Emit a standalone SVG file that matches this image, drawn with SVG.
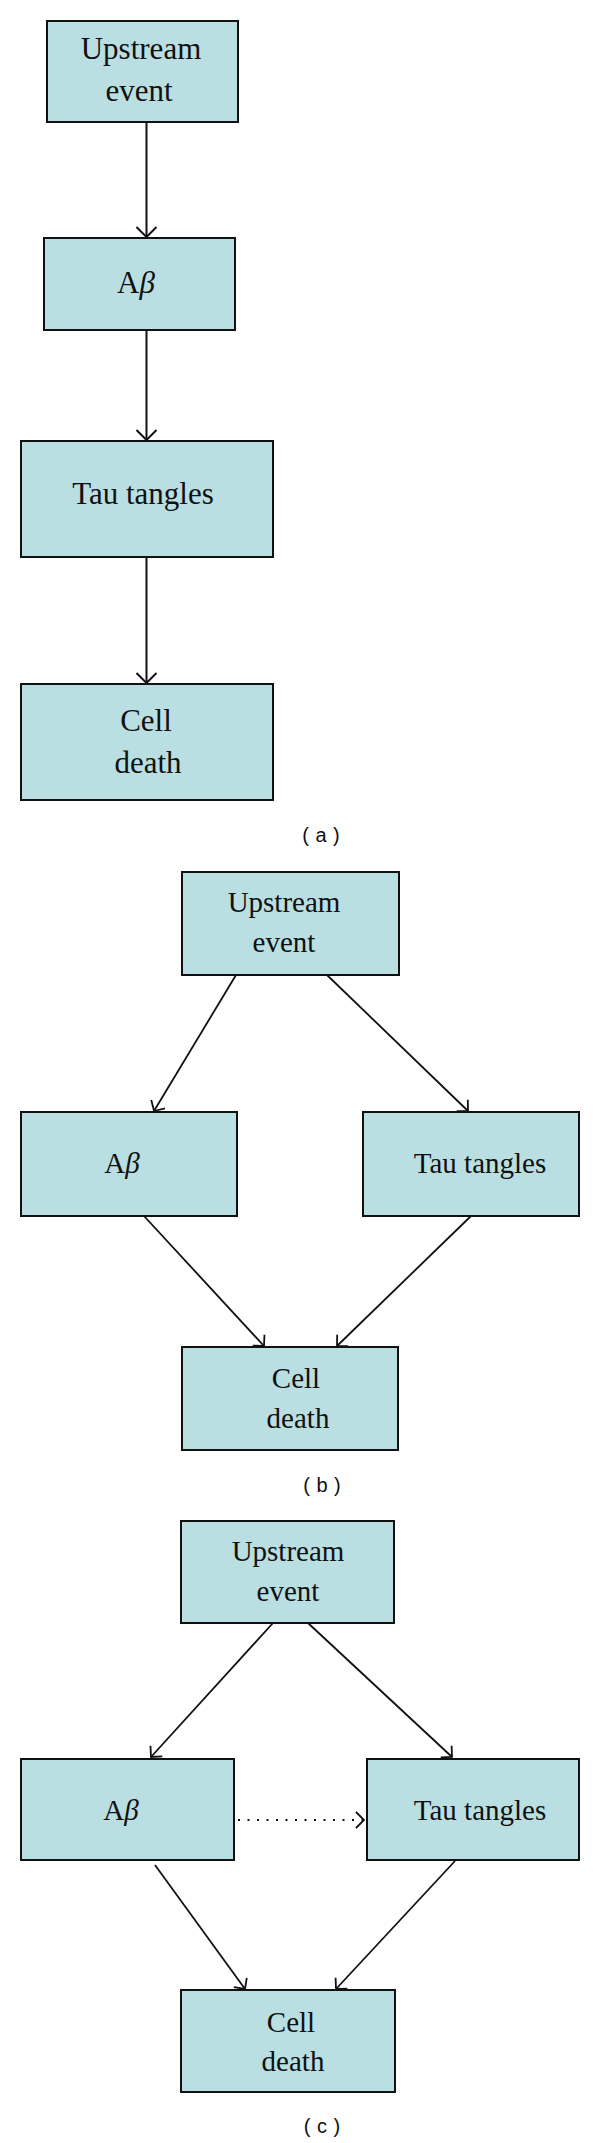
<svg xmlns="http://www.w3.org/2000/svg" width="600" height="2143" viewBox="0 0 600 2143">
<defs>
<style>
.box{fill:#badfe2;stroke:#111;stroke-width:2}
.t{font-family:"Liberation Serif","Times New Roman",serif;fill:#111;text-anchor:middle}
.ta{font-size:31px}
.tb{font-size:29px}
.lab{font-family:"Liberation Sans",Arial,sans-serif;font-size:20px;word-spacing:1px;fill:#111;text-anchor:middle}
.c{fill:none;stroke:#111;stroke-width:2}
.cb{fill:none;stroke:#111;stroke-width:1.8}
.dot{fill:none;stroke:#111;stroke-width:2;stroke-dasharray:2 7.5}
</style>
<marker id="ah" markerUnits="userSpaceOnUse" viewBox="0 0 12 22" refX="11" refY="11" markerWidth="12" markerHeight="22" orient="auto">
<path d="M1,1 L11,11 L1,21" fill="none" stroke="#111" stroke-width="2"/>
</marker>
<marker id="ahs" markerUnits="userSpaceOnUse" viewBox="0 0 10 18" refX="9" refY="9" markerWidth="10" markerHeight="18" orient="auto">
<path d="M1,1 L9,9 L1,17" fill="none" stroke="#111" stroke-width="1.8"/>
</marker>
</defs>
<rect width="600" height="2143" fill="#fff"/>

<g id="connectors">
<line class="c" x1="146.5" y1="122" x2="146.5" y2="237" marker-end="url(#ah)"/>
<line class="c" x1="146.5" y1="330" x2="146.5" y2="440" marker-end="url(#ah)"/>
<line class="c" x1="146.5" y1="557" x2="146.5" y2="683" marker-end="url(#ah)"/>

<line class="cb" x1="236" y1="975" x2="154" y2="1111" marker-end="url(#ahs)"/>
<line class="cb" x1="327" y1="975" x2="468" y2="1111" marker-end="url(#ahs)"/>
<line class="cb" x1="144" y1="1216" x2="264" y2="1346" marker-end="url(#ahs)"/>
<line class="cb" x1="471" y1="1216" x2="337" y2="1346" marker-end="url(#ahs)"/>

<line class="cb" x1="273" y1="1623" x2="151" y2="1757" marker-end="url(#ahs)"/>
<line class="cb" x1="308" y1="1623" x2="452" y2="1757" marker-end="url(#ahs)"/>
<line class="cb" x1="155" y1="1865" x2="245" y2="1989" marker-end="url(#ahs)"/>
<line class="cb" x1="455" y1="1861" x2="336" y2="1989" marker-end="url(#ahs)"/>
<line class="dot" x1="238" y1="1820" x2="364" y2="1820" marker-end="url(#ahs)"/>
</g>

<g id="a-upstream"><rect class="box" x="47" y="21" width="191" height="101"/>
<text class="t ta" x="141" y="59">Upstream</text><text class="t ta" x="139" y="101">event</text></g>
<g id="a-abeta"><rect class="box" x="44" y="238" width="191" height="92"/>
<text class="t ta" x="136" y="293">A<tspan font-style="italic">β</tspan></text></g>
<g id="a-tau"><rect class="box" x="21" y="441" width="252" height="116"/>
<text class="t ta" x="143" y="504">Tau tangles</text></g>
<g id="a-cell"><rect class="box" x="21" y="684" width="252" height="116"/>
<text class="t ta" x="146" y="731">Cell</text><text class="t ta" x="148" y="773">death</text></g>
<text class="lab" x="321" y="842">( a )</text>

<g id="b-upstream"><rect class="box" x="182" y="872" width="217" height="103"/>
<text class="t tb" x="284" y="912">Upstream</text><text class="t tb" x="284" y="952">event</text></g>
<g id="b-abeta"><rect class="box" x="21" y="1112" width="216" height="104"/>
<text class="t tb" x="122" y="1173">A<tspan font-style="italic">β</tspan></text></g>
<g id="b-tau"><rect class="box" x="363" y="1112" width="216" height="104"/>
<text class="t tb" x="480" y="1173">Tau tangles</text></g>
<g id="b-cell"><rect class="box" x="182" y="1347" width="216" height="103"/>
<text class="t tb" x="296" y="1388">Cell</text><text class="t tb" x="298" y="1428">death</text></g>
<text class="lab" x="322" y="1492">( b )</text>

<g id="c-upstream"><rect class="box" x="181" y="1521" width="213" height="102"/>
<text class="t tb" x="288" y="1561">Upstream</text><text class="t tb" x="288" y="1601">event</text></g>
<g id="c-abeta"><rect class="box" x="21" y="1759" width="213" height="101"/>
<text class="t tb" x="121" y="1820">A<tspan font-style="italic">β</tspan></text></g>
<g id="c-tau"><rect class="box" x="367" y="1759" width="212" height="101"/>
<text class="t tb" x="480" y="1820">Tau tangles</text></g>
<g id="c-cell"><rect class="box" x="181" y="1990" width="214" height="102"/>
<text class="t tb" x="291" y="2032">Cell</text><text class="t tb" x="293" y="2071">death</text></g>
<text class="lab" x="322" y="2133">( c )</text>
</svg>
